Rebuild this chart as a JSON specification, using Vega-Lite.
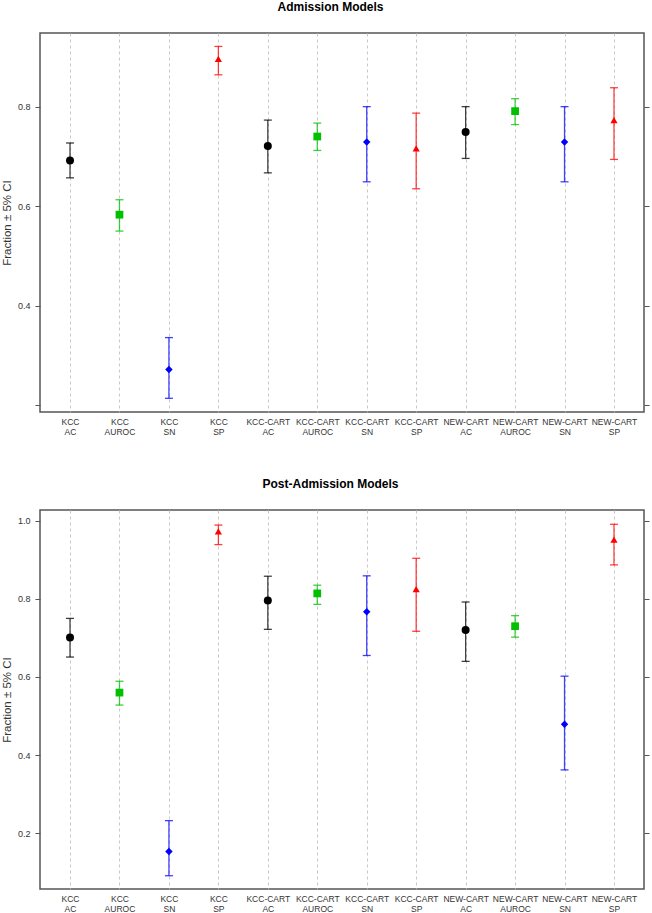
{
  "$schema": "https://vega.github.io/schema/vega-lite/v6.json",
  "background": "white",
  "padding": {"top": 0, "left": 0, "right": 2, "bottom": 2},
  "spacing": 40,
  "config": {
    "font": "Liberation Sans",
    "view": {"stroke": "#555555", "strokeWidth": 1.5},
    "title": {"fontSize": 12, "fontWeight": "bold", "color": "#000000", "offset": 19, "anchor": "middle", "frame": "bounds"},
    "axis": {"labelFont": "Liberation Sans", "titleFont": "Liberation Sans"}
  },
  "datasets": {
    "d": [
      {"panel": "Admission", "model": "KCC", "metric": "AC", "label": "KCC AC", "value": 0.692, "lo": 0.657, "hi": 0.727},
      {"panel": "Admission", "model": "KCC", "metric": "AUROC", "label": "KCC AUROC", "value": 0.583, "lo": 0.550, "hi": 0.613},
      {"panel": "Admission", "model": "KCC", "metric": "SN", "label": "KCC SN", "value": 0.272, "lo": 0.214, "hi": 0.336},
      {"panel": "Admission", "model": "KCC", "metric": "SP", "label": "KCC SP", "value": 0.896, "lo": 0.864, "hi": 0.921},
      {"panel": "Admission", "model": "KCC-CART", "metric": "AC", "label": "KCC-CART AC", "value": 0.721, "lo": 0.667, "hi": 0.773},
      {"panel": "Admission", "model": "KCC-CART", "metric": "AUROC", "label": "KCC-CART AUROC", "value": 0.740, "lo": 0.712, "hi": 0.767},
      {"panel": "Admission", "model": "KCC-CART", "metric": "SN", "label": "KCC-CART SN", "value": 0.729, "lo": 0.649, "hi": 0.800},
      {"panel": "Admission", "model": "KCC-CART", "metric": "SP", "label": "KCC-CART SP", "value": 0.716, "lo": 0.635, "hi": 0.787},
      {"panel": "Admission", "model": "NEW-CART", "metric": "AC", "label": "NEW-CART AC", "value": 0.749, "lo": 0.696, "hi": 0.800},
      {"panel": "Admission", "model": "NEW-CART", "metric": "AUROC", "label": "NEW-CART AUROC", "value": 0.791, "lo": 0.764, "hi": 0.816},
      {"panel": "Admission", "model": "NEW-CART", "metric": "SN", "label": "NEW-CART SN", "value": 0.729, "lo": 0.649, "hi": 0.800},
      {"panel": "Admission", "model": "NEW-CART", "metric": "SP", "label": "NEW-CART SP", "value": 0.773, "lo": 0.694, "hi": 0.838},
      {"panel": "Post", "model": "KCC", "metric": "AC", "label": "KCC AC", "value": 0.701, "lo": 0.651, "hi": 0.750},
      {"panel": "Post", "model": "KCC", "metric": "AUROC", "label": "KCC AUROC", "value": 0.560, "lo": 0.528, "hi": 0.589},
      {"panel": "Post", "model": "KCC", "metric": "SN", "label": "KCC SN", "value": 0.153, "lo": 0.091, "hi": 0.232},
      {"panel": "Post", "model": "KCC", "metric": "SP", "label": "KCC SP", "value": 0.973, "lo": 0.939, "hi": 0.989},
      {"panel": "Post", "model": "KCC-CART", "metric": "AC", "label": "KCC-CART AC", "value": 0.796, "lo": 0.722, "hi": 0.858},
      {"panel": "Post", "model": "KCC-CART", "metric": "AUROC", "label": "KCC-CART AUROC", "value": 0.814, "lo": 0.786, "hi": 0.835},
      {"panel": "Post", "model": "KCC-CART", "metric": "SN", "label": "KCC-CART SN", "value": 0.767, "lo": 0.655, "hi": 0.859},
      {"panel": "Post", "model": "KCC-CART", "metric": "SP", "label": "KCC-CART SP", "value": 0.825, "lo": 0.717, "hi": 0.904},
      {"panel": "Post", "model": "NEW-CART", "metric": "AC", "label": "NEW-CART AC", "value": 0.720, "lo": 0.640, "hi": 0.792},
      {"panel": "Post", "model": "NEW-CART", "metric": "AUROC", "label": "NEW-CART AUROC", "value": 0.730, "lo": 0.702, "hi": 0.757},
      {"panel": "Post", "model": "NEW-CART", "metric": "SN", "label": "NEW-CART SN", "value": 0.479, "lo": 0.362, "hi": 0.602},
      {"panel": "Post", "model": "NEW-CART", "metric": "SP", "label": "NEW-CART SP", "value": 0.952, "lo": 0.887, "hi": 0.991}
    ]
  },
  "vconcat": [
    {
      "title": {"text": "Admission Models", "dx": 5},
      "width": 604,
      "height": 379,
      "data": {"name": "d"},
      "transform": [{"filter": "datum.panel == 'Admission'"}],
      "encoding": {
        "x": {
          "field": "label", "type": "nominal", "sort": null,
          "scale": {"type": "point", "padding": 0.607},
          "axis": {"title": null, "grid": true, "gridDash": [3, 3], "gridColor": "#c8c8c8", "gridWidth": 1, "ticks": false, "domain": false, "labelAngle": 0, "labelExpr": "split(datum.label, ' ')", "labelFontSize": 8.5, "labelColor": "#333333", "labelPadding": 5, "labelLineHeight": 10}
        },
        "color": {"field": "metric", "type": "nominal", "scale": {"domain": ["AC", "AUROC", "SN", "SP"], "range": ["#000000", "#00c000", "#0000ff", "#ff0000"]}, "legend": null}
      },
      "layer": [
        {
          "mark": {"type": "rule", "strokeWidth": 1.3, "opacity": 0.75},
          "encoding": {
            "y": {"field": "lo", "type": "quantitative", "scale": {"domain": [0.1865, 0.948], "nice": false, "zero": false},
              "axis": {"orient": "left", "title": "Fraction ± 5% CI", "titleFontSize": 11.5, "titleFontWeight": "normal", "titleColor": "#333333", "titlePadding": 5, "values": [0.2, 0.4, 0.6, 0.8], "format": ".1f", "labelExpr": "datum.value < 0.3 ? '' : datum.label", "labelFontSize": 9, "labelColor": "#333333", "labelPadding": 5, "tickSize": 5, "tickColor": "#555555", "domain": false, "grid": false}},
            "y2": {"field": "hi"}
          }
        },
        {
          "mark": {"type": "tick", "size": 8, "thickness": 1.3, "opacity": 0.75},
          "encoding": {"y": {"field": "lo", "type": "quantitative", "axis": null}}
        },
        {
          "mark": {"type": "tick", "size": 8, "thickness": 1.3, "opacity": 0.75},
          "encoding": {"y": {"field": "hi", "type": "quantitative",
            "axis": {"orient": "right", "title": null, "labels": false, "values": [0.2, 0.4, 0.6, 0.8], "tickSize": 5, "tickColor": "#555555", "domain": false, "grid": false}}}
        },
        {
          "mark": {"type": "point", "filled": true, "opacity": 1},
          "encoding": {
            "y": {"field": "value", "type": "quantitative", "axis": null},
            "shape": {"field": "metric", "type": "nominal", "scale": {"domain": ["AC", "AUROC", "SN", "SP"], "range": ["circle", "square", "diamond", "triangle-up"]}, "legend": null},
            "size": {"field": "metric", "type": "nominal", "scale": {"domain": ["AC", "AUROC", "SN", "SP"], "range": [64, 52, 32, 90]}, "legend": null}
          }
        }
      ],
      "resolve": {"axis": {"y": "independent"}}
    },
    {
      "title": {"text": "Post-Admission Models", "dx": 5},
      "width": 604,
      "height": 379,
      "data": {"name": "d"},
      "transform": [{"filter": "datum.panel == 'Post'"}],
      "encoding": {
        "x": {
          "field": "label", "type": "nominal", "sort": null,
          "scale": {"type": "point", "padding": 0.607},
          "axis": {"title": null, "grid": true, "gridDash": [3, 3], "gridColor": "#c8c8c8", "gridWidth": 1, "ticks": false, "domain": false, "labelAngle": 0, "labelExpr": "split(datum.label, ' ')", "labelFontSize": 8.5, "labelColor": "#333333", "labelPadding": 5, "labelLineHeight": 10}
        },
        "color": {"field": "metric", "type": "nominal", "scale": {"domain": ["AC", "AUROC", "SN", "SP"], "range": ["#000000", "#00c000", "#0000ff", "#ff0000"]}, "legend": null}
      },
      "layer": [
        {
          "mark": {"type": "rule", "strokeWidth": 1.3, "opacity": 0.75},
          "encoding": {
            "y": {"field": "lo", "type": "quantitative", "scale": {"domain": [0.057, 1.0276], "nice": false, "zero": false},
              "axis": {"orient": "left", "title": "Fraction ± 5% CI", "titleFontSize": 11.5, "titleFontWeight": "normal", "titleColor": "#333333", "titlePadding": 5, "values": [0.2, 0.4, 0.6, 0.8, 1.0], "format": ".1f", "labelFontSize": 9, "labelColor": "#333333", "labelPadding": 5, "tickSize": 5, "tickColor": "#555555", "domain": false, "grid": false}},
            "y2": {"field": "hi"}
          }
        },
        {
          "mark": {"type": "tick", "size": 8, "thickness": 1.3, "opacity": 0.75},
          "encoding": {"y": {"field": "lo", "type": "quantitative", "axis": null}}
        },
        {
          "mark": {"type": "tick", "size": 8, "thickness": 1.3, "opacity": 0.75},
          "encoding": {"y": {"field": "hi", "type": "quantitative",
            "axis": {"orient": "right", "title": null, "labels": false, "values": [0.2, 0.4, 0.6, 0.8, 1.0], "tickSize": 5, "tickColor": "#555555", "domain": false, "grid": false}}}
        },
        {
          "mark": {"type": "point", "filled": true, "opacity": 1},
          "encoding": {
            "y": {"field": "value", "type": "quantitative", "axis": null},
            "shape": {"field": "metric", "type": "nominal", "scale": {"domain": ["AC", "AUROC", "SN", "SP"], "range": ["circle", "square", "diamond", "triangle-up"]}, "legend": null},
            "size": {"field": "metric", "type": "nominal", "scale": {"domain": ["AC", "AUROC", "SN", "SP"], "range": [64, 52, 32, 90]}, "legend": null}
          }
        }
      ],
      "resolve": {"axis": {"y": "independent"}}
    }
  ]
}
